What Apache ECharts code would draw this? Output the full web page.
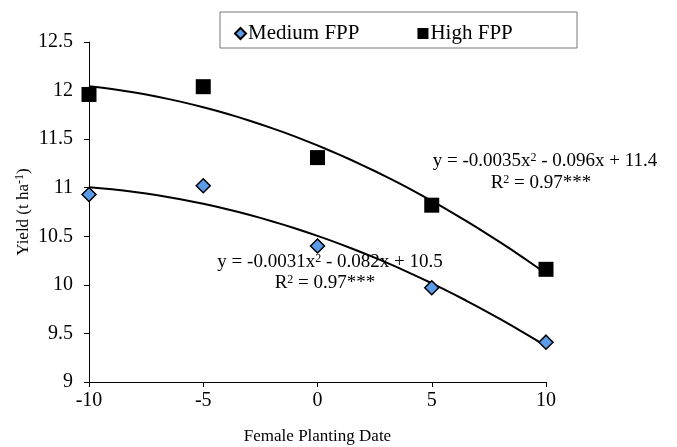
<!DOCTYPE html>
<html lang="en">
<head>
    <meta charset="utf-8" />
    <title>Yield vs Female Planting Date</title>
    <script type="text/javascript" src="https://cdn.jsdelivr.net/npm/echarts@6/dist/echarts.min.js"></script>
</head>
<body style="margin:0;background:#fff">
    <div id="container" style="width:677px;height:447px;"></div>
<script type="text/javascript">
    // data
    var plantingDates = [-10, -5, 0, 5, 10];
    var mediumYield = [10.93, 11.02, 10.40, 9.97, 9.41];
    var highYield = [11.96, 12.04, 11.31, 10.82, 10.16];
    var yTicks = [9, 9.5, 10, 10.5, 11, 11.5, 12, 12.5];
    var highEquation = ['y = -0.0035x{sup|2} - 0.096x + 11.4', 'R{sup|2} = 0.97***'];
    var mediumEquation = ['y = -0.0031x{sup|2} - 0.082x + 10.5', 'R{sup|2} = 0.97***'];

    var font = '"Liberation Serif", "Times New Roman", serif';

    // least squares quadratic, like the spreadsheet trendline
    function quadFit(xs, ys) {
        var n = xs.length, s = [0, 0, 0, 0, 0], t = [0, 0, 0];
        for (var i = 0; i < n; i++) {
            for (var k = 0; k < 5; k++) s[k] += Math.pow(xs[i], k);
            for (var k = 0; k < 3; k++) t[k] += ys[i] * Math.pow(xs[i], k);
        }
        var m = [[s[0], s[1], s[2], t[0]], [s[1], s[2], s[3], t[1]], [s[2], s[3], s[4], t[2]]];
        for (var c = 0; c < 3; c++) {
            for (var r = c + 1; r < 3; r++) {
                var f = m[r][c] / m[c][c];
                for (var j = c; j < 4; j++) m[r][j] -= f * m[c][j];
            }
        }
        var coef = [0, 0, 0];
        for (var r = 2; r >= 0; r--) {
            var v = m[r][3];
            for (var j = r + 1; j < 3; j++) v -= m[r][j] * coef[j];
            coef[r] = v / m[r][r];
        }
        return coef; // c0 + c1 x + c2 x^2
    }

    function trend(xs, ys) {
        var c = quadFit(xs, ys), out = [];
        var lo = xs[0], hi = xs[xs.length - 1];
        for (var i = 0; i <= 40; i++) {
            var x = lo + (hi - lo) * i / 40;
            out.push([x, c[0] + c[1] * x + c[2] * x * x]);
        }
        return out;
    }

    function pairs(xs, ys) {
        return xs.map(function (x, i) { return [x, ys[i]]; });
    }

    var supRich = {
        sup: { fontSize: 12, verticalAlign: 'top', fontFamily: font, color: '#000', padding: [0, 0, 7, 0] }
    };

    function eqText(str, x, y) {
        return {
            type: 'text', x: x, y: y, z: 10,
            style: {
                text: str, rich: supRich, fontFamily: font, fontSize: 19, fill: '#000',
                align: 'center', verticalAlign: 'middle'
            }
        };
    }

    var myChart = echarts.init(document.getElementById('container'));
    var option = {
        backgroundColor: '#fff',
        animation: false,
        textStyle: { fontFamily: font, color: '#000' },
        grid: { left: 89, right: 131, top: 42, bottom: 65, outerBoundsMode: 'none', containLabel: false },
        legend: {
            data: [
                { name: 'Medium FPP', icon: 'diamond' },
                { name: 'High FPP', icon: 'rect' }
            ],
            left: 229, top: 18,
            itemWidth: 11, itemHeight: 11, itemGap: 58,
            textStyle: { fontFamily: font, fontSize: 21, color: '#000', padding: [0, 0, 0, -3] }
        },
        xAxis: {
            type: 'value', min: -10, max: 10, interval: 5,
            name: 'Female Planting Date', nameLocation: 'middle', nameGap: 46,
            nameTextStyle: { fontFamily: font, fontSize: 17, color: '#000' },
            axisLine: { onZero: false, lineStyle: { color: '#000', width: 1 } },
            axisTick: { show: true, length: 5, lineStyle: { color: '#000' } },
            axisLabel: { fontFamily: font, fontSize: 20, color: '#000', margin: 9 },
            splitLine: { show: false }
        },
        yAxis: {
            type: 'value', min: yTicks[0], max: yTicks[yTicks.length - 1], interval: 0.5,
            name: 'Yield (t ha{sup|-1})', nameLocation: 'middle', nameGap: 56, nameRotate: 90,
            nameMoveOverlap: false,
            nameTextStyle: { fontFamily: font, fontSize: 17, color: '#000', rich: supRich },
            axisLine: { show: true, onZero: false, lineStyle: { color: '#000', width: 1 } },
            axisTick: { show: true, length: 5, lineStyle: { color: '#000' } },
            axisLabel: { fontFamily: font, fontSize: 20, color: '#000', margin: 16 },
            splitLine: { show: false }
        },
        graphic: [
            {
                type: 'rect', x: 220, y: 12, z: 0,
                shape: { width: 357, height: 36 },
                style: { fill: '#fff', stroke: '#777', lineWidth: 1 }
            },
            eqText(highEquation[0], 545, 161),
            eqText(highEquation[1], 541, 183),
            eqText(mediumEquation[0], 330, 262),
            eqText(mediumEquation[1], 325, 283)
        ],
        series: [
            {
                name: 'Medium FPP', type: 'scatter', z: 5,
                symbol: 'diamond', symbolSize: 14,
                itemStyle: { color: '#5b9be8', opacity: 1, borderColor: '#000', borderWidth: 1.5 },
                data: pairs(plantingDates, mediumYield)
            },
            {
                name: 'High FPP', type: 'scatter', z: 5,
                symbol: 'rect', symbolSize: 15,
                itemStyle: { color: '#000', opacity: 1 },
                data: pairs(plantingDates, highYield)
            },
            {
                name: 'Medium trend', type: 'line', z: 2, showSymbol: false,
                lineStyle: { color: '#000', width: 2 },
                data: trend(plantingDates, mediumYield)
            },
            {
                name: 'High trend', type: 'line', z: 2, showSymbol: false,
                lineStyle: { color: '#000', width: 2 },
                data: trend(plantingDates, highYield)
            }
        ]
    };
    myChart.setOption(option);
</script>
</body>
</html>
